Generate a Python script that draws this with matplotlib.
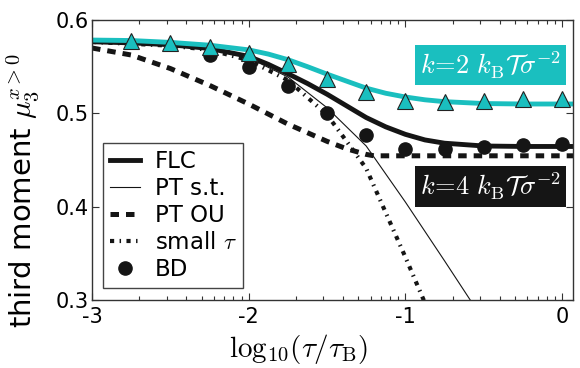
import numpy as np
import matplotlib
matplotlib.use('Agg')
import matplotlib.pyplot as plt

plt.rcParams['mathtext.fontset'] = 'cm'
plt.rcParams['axes.unicode_minus'] = False
plt.rcParams['font.family'] = ['DejaVu Sans']

# FLC, k = 2 (cyan) and k = 4 (black)
x_flc = [-3.0, -2.75, -2.5, -2.25, -2.0, -1.875, -1.75, -1.625, -1.5, -1.375,
         -1.25, -1.125, -1.0, -0.875, -0.75, -0.5, -0.25, 0.0, 0.07]
flc_k2 = [0.5785, 0.578, 0.576, 0.573, 0.568, 0.5635, 0.5575, 0.550, 0.542, 0.5345,
          0.527, 0.5215, 0.5175, 0.5145, 0.5125, 0.5105, 0.510, 0.510, 0.510]
flc_k4 = [0.5767, 0.5755, 0.5735, 0.5695, 0.561, 0.5525, 0.5425, 0.532, 0.5205, 0.508,
          0.4955, 0.4855, 0.4775, 0.4715, 0.468, 0.465, 0.4645, 0.4645, 0.4645]

# PT s.t. (thin)
x_pt = [-3.0, -2.5, -2.25, -2.0, -1.75, -1.5, -1.25, -1.0, -0.75, -0.5]
pt_st = [0.5767, 0.573, 0.569, 0.5595, 0.539, 0.506, 0.465, 0.405, 0.342, 0.278]

# PT OU (dashed)
x_ou = [-3.0, -2.75, -2.5, -2.25, -2.0, -1.75, -1.5, -1.375, -1.25, -1.2, -1.0, -0.5, 0.0, 0.07]
pt_ou = [0.570, 0.5625, 0.548, 0.530, 0.510, 0.4885, 0.470, 0.462, 0.456, 0.4545,
         0.4545, 0.4545, 0.4545, 0.4545]

# small tau
x_st = [-3.0, -2.5, -2.25, -2.0, -1.75, -1.5, -1.375, -1.25, -1.0, -0.85]
small_tau = [0.5765, 0.5725, 0.568, 0.557, 0.5355, 0.4985, 0.470, 0.441, 0.346, 0.287]

# BD data
x_tri = [-2.75, -2.5, -2.25, -2.0, -1.75, -1.5, -1.25, -1.0, -0.75, -0.5, -0.25, 0.0]
bd_k2 = [0.577, 0.575, 0.571, 0.565, 0.553, 0.537, 0.523, 0.513, 0.512, 0.513, 0.515, 0.515]
x_bd = [-2.25, -2.0, -1.75, -1.5, -1.25, -1.0, -0.75, -0.5, -0.25, 0.0]
bd_k4 = [0.5624, 0.5498, 0.529, 0.5007, 0.477, 0.462, 0.462, 0.4634, 0.4656, 0.4667]

cyan = '#1ABFBF'
blk = '#151515'

fig = plt.figure(figsize=(5.8, 3.68), dpi=100)
ax = fig.add_axes([92/580, 1-300/368, 481/580, 280/368])

ax.plot(x_pt, pt_st, '-', color=blk, lw=0.8, label='PT s.t.')
ax.plot(x_st, small_tau, color=blk, lw=3, dashes=(1.0, 1.3, 0.35, 1.3), label=r'small $\tau$')
ax.plot(x_ou, pt_ou, color=blk, lw=3.6, dashes=(1.7, 1.4), label='PT OU')
ax.plot(x_flc, flc_k4, '-', color=blk, lw=3.5, label='FLC')
ax.plot(x_flc, flc_k2, '-', color=cyan, lw=3.5)
ax.plot(x_bd, bd_k4, 'o', color=blk, ms=9.5, label='BD')
ax.plot(x_tri, bd_k2, '^', color=cyan, mec='#222222', mew=0.8, ms=11.5)

ax.set_xlim(-3, 0.07)
ax.set_ylim(0.3, 0.6)
ax.set_xticks([-3, -2, -1, 0])
ax.set_xticklabels(['-3', '-2', '-1', '0'])
ax.set_xticks([d + np.log10(k) for d in (-3, -2, -1) for k in range(2, 10)], minor=True)
ax.set_yticks([0.3, 0.4, 0.5, 0.6])
ax.set_yticklabels(['0.3', '0.4', '0.5', '0.6'])
ax.tick_params(which='both', direction='in', top=True, right=True, color='#333333',
               width=0.8, labelsize=15)
ax.tick_params(which='major', length=5)
ax.tick_params(which='minor', length=3)
ax.tick_params(axis='x', pad=5)
ax.tick_params(axis='y', pad=2)
for s in ax.spines.values():
    s.set_color('#333333')
    s.set_linewidth(1.0)

ax.set_ylabel(r'third moment $\mu_3^{x>0}$', fontsize=21)
ax.yaxis.set_label_coords(-0.105, 0.39)
ax.set_xlabel(r'$\mathrm{log}_{10}(\tau/\tau_{\mathrm{B}})$', fontsize=21)
ax.xaxis.set_label_coords(0.43, -0.115)

ax.text(0.8285, 0.839, r'$k\!=\!2\ k_{\mathrm{B}}\mathcal{T}\sigma^{-2}$', transform=ax.transAxes,
        ha='center', va='center', fontsize=19, color='white',
        bbox=dict(boxstyle='square,pad=0.18', fc=cyan, ec='none'))
ax.text(0.8285, 0.405, r'$k\!=\!4\ k_{\mathrm{B}}\mathcal{T}\sigma^{-2}$', transform=ax.transAxes,
        ha='center', va='center', fontsize=19, color='white',
        bbox=dict(boxstyle='square,pad=0.18', fc=blk, ec='none'))

h, l = ax.get_legend_handles_labels()
order = ['FLC', 'PT s.t.', 'PT OU', r'small $\tau$', 'BD']
hs = [h[l.index(o)] for o in order]
leg = ax.legend(hs, order, loc='lower left', bbox_to_anchor=(0.023, 0.043), borderaxespad=0,
                fontsize=16.5, fancybox=False, framealpha=1, edgecolor='#444444',
                handlelength=1.3, handletextpad=0.65, labelspacing=0.18, borderpad=0.3)
leg.get_frame().set_linewidth(1.0)

fig.savefig('out.png', dpi=100)
